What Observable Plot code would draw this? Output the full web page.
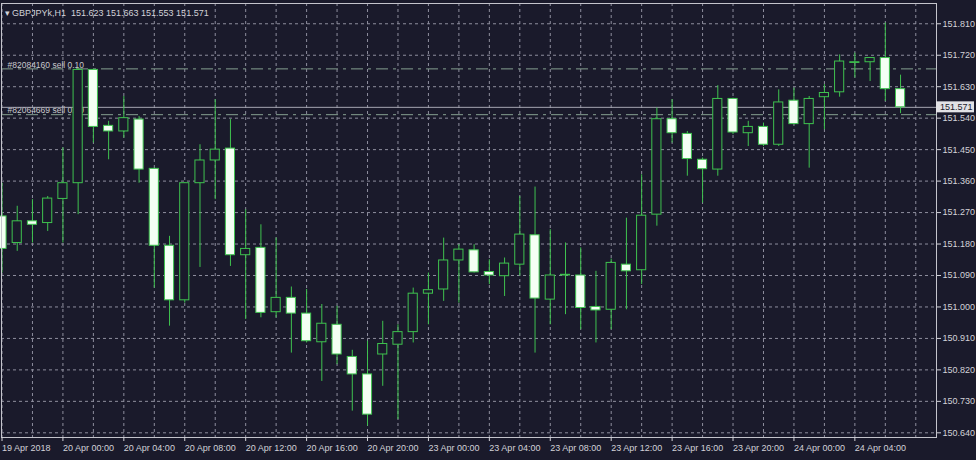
<!DOCTYPE html>
<html><head><meta charset="utf-8">
<script src="https://cdn.jsdelivr.net/npm/d3@7"></script>
<script src="https://cdn.jsdelivr.net/npm/@observablehq/plot@0.6"></script>
<style>
html,body{margin:0;padding:0;background:#1a1a2b;overflow:hidden;}
</style></head><body><div id="chart"></div>
<script>
// ---- data ----
const title = "\u25BE\u00A0GBPJPYk,H1\u00A0\u00A0151.623\u00A0151.663\u00A0151.553\u00A0151.571";
const open  = [151.259,151.183,151.245,151.240,151.309,151.354,151.678,151.518,151.502,151.536,
               151.395,151.175,151.019,151.354,151.419,151.453,151.148,151.169,150.985,151.026,
               150.981,150.899,150.949,150.857,150.807,150.864,150.892,150.928,151.038,151.050,
               151.133,151.162,151.100,151.088,151.121,151.205,151.021,151.090,151.090,151.000,
               150.992,151.121,151.105,151.264,151.537,151.495,151.421,151.393,151.595,151.497,
               151.515,151.464,151.590,151.523,151.600,151.614,151.698,151.700,151.712,151.623];
const high  = [151.354,151.288,151.307,151.316,151.455,151.683,151.680,151.531,151.602,151.545,
               151.397,151.202,151.356,151.464,151.593,151.536,151.278,151.235,151.197,151.057,
               151.050,151.007,151.002,150.876,150.902,150.959,150.949,151.054,151.097,151.197,
               151.178,151.178,151.135,151.140,151.316,151.343,151.221,151.183,151.169,151.102,
               151.137,151.254,151.378,151.569,151.593,151.502,151.426,151.633,151.597,151.531,
               151.526,151.621,151.626,151.602,151.636,151.721,151.726,151.712,151.812,151.663];
const low   = [151.097,151.159,151.183,151.216,151.183,151.264,151.469,151.421,151.483,151.354,
               151.054,150.945,151.011,151.113,151.307,151.116,150.964,150.969,150.969,150.868,
               150.897,150.787,150.835,150.702,150.659,150.773,150.678,150.897,150.949,151.016,
               151.011,151.097,151.064,151.030,151.088,150.868,150.949,150.978,150.935,150.897,
               150.935,150.992,151.064,151.231,151.469,151.374,151.297,151.374,151.493,151.459,
               151.459,151.459,151.521,151.397,151.507,151.600,151.655,151.645,151.588,151.553];
const close = [151.166,151.245,151.235,151.310,151.354,151.678,151.515,151.502,151.540,151.393,
               151.175,151.019,151.354,151.419,151.450,151.148,151.166,150.983,151.026,150.981,
               150.902,150.952,150.864,150.807,150.692,150.894,150.928,151.038,151.048,151.133,
               151.164,151.099,151.090,151.124,151.207,151.024,151.090,151.092,150.997,150.990,
               151.126,151.102,151.261,151.537,151.497,151.423,151.394,151.595,151.499,151.515,
               151.464,151.585,151.523,151.595,151.612,151.702,151.700,151.712,151.623,151.571];
const tickIndex  = [0,4,8,12,16,20,24,28,32,36,40,44,48,52,56];
const tickLabels = ["19 Apr 2018","20 Apr 00:00","20 Apr 04:00","20 Apr 08:00","20 Apr 12:00",
                    "20 Apr 16:00","20 Apr 20:00","23 Apr 00:00","23 Apr 04:00","23 Apr 08:00",
                    "23 Apr 12:00","23 Apr 16:00","23 Apr 20:00","24 Apr 00:00","24 Apr 04:00"];
const priceTicks = [151.810,151.720,151.630,151.540,151.450,151.360,151.270,151.180,151.090,
                    151.000,150.910,150.820,150.730,150.640];
const orderLabels = ["#82084160 sell 0.10","#82064669 sell 0.10"];
const orderPrices = [151.681,151.550];
const bid = 151.571;

// ---- styles ----
const BG = "#1a1a2b", GREEN = "#3fc24f", GRID = "#8e8e9e", FRAME = "#c4c4cc", TXT = "#d2d2d8";

const bars = open.map((o,i)=>({i, o, h:high[i], l:low[i], c:close[i], up: close[i] >= open[i]}));
const orders = orderLabels.map((label,i)=>({label, price: orderPrices[i]}));
const gridX = d3.range(0, 61, 2);

const chart = Plot.plot({
  width: 976, height: 460,
  marginTop: 3, marginBottom: 23, marginLeft: 1, marginRight: 40,
  style: {background: BG, color: TXT, fontFamily: "Liberation Sans, Arial, sans-serif", fontSize: "9px", overflow: "visible"},
  x: {domain: [-0.033, 61.36], axis: null, label: null},
  y: {domain: [150.6266, 151.868], axis: null, label: null},
  marks: [
    Plot.ruleY(priceTicks, {stroke: GRID, strokeDasharray: "3,3"}),
    Plot.ruleX(gridX, {stroke: GRID, strokeDasharray: "3,3"}),
    Plot.ruleY(orders, {y: "price", stroke: "#86a090", strokeDasharray: "12,5,3,5"}),
    Plot.text(orders, {y: "price", text: "label", frameAnchor: "left", textAnchor: "start", lineAnchor: "middle", dx: 6, dy: -4, fill: "#c8c8cc", fontSize: 8.5}),
    Plot.ruleY([bid], {stroke: "#a6a6b2"}),
    Plot.ruleX(bars, {x: "i", y1: "l", y2: "h", stroke: GREEN}),
    Plot.rect(bars, {x1: d => d.i - 0.3, x2: d => d.i + 0.3, y1: "o", y2: "c",
                     fill: d => d.up ? BG : "#f4fff4", stroke: GREEN}),
    Plot.frame({stroke: FRAME}),
    Plot.axisY({anchor: "right", ticks: priceTicks, tickFormat: d => d.toFixed(3), tickSize: 4, tickPadding: 2, label: null}),
    Plot.axisX({ticks: tickIndex, tickFormat: d => tickLabels[tickIndex.indexOf(d)], tickSize: 4, tickPadding: 3, textAnchor: "start", dx: 0, label: null}),
    Plot.text([title], {frameAnchor: "top-left", textAnchor: "start", lineAnchor: "middle", dx: 3, dy: 10, fill: TXT, fontSize: 9})
  ]
});

// current price label on the right axis, placed through the plot's y scale
const yb = chart.scale("y").apply(bid);
const svg = d3.select(chart);
const g = svg.append("g").attr("text-anchor", "start");
g.append("rect").attr("x", 976 - 40).attr("y", yb - 5.5).attr("width", 38).attr("height", 11).attr("fill", "#e2e2e6");
g.append("text").attr("x", 976 - 40 + 4).attr("y", yb).attr("dy", "0.32em").attr("text-anchor", "start")
  .attr("font-size", 9).attr("fill", BG).text(bid.toFixed(3));

document.getElementById("chart").appendChild(chart);
</script>
</body></html>
